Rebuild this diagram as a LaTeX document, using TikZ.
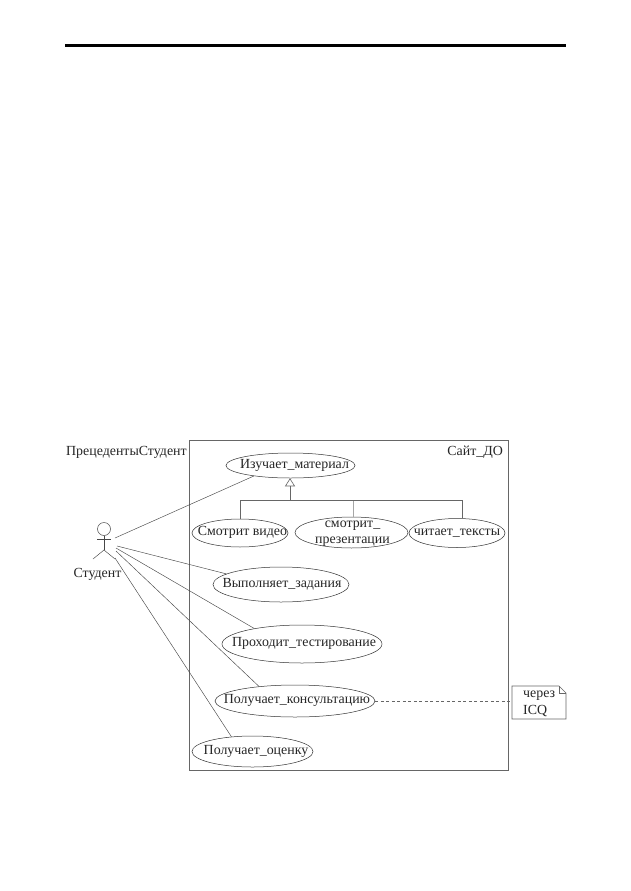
\documentclass[tikz,border=0pt]{standalone}
\usepackage{fontspec}
\setmainfont{Liberation Serif}
\usetikzlibrary{arrows.meta,shapes.geometric,shapes.misc}
\definecolor{lineg}{gray}{0.28}
\definecolor{frameg}{gray}{0.4}
\newcommand\uctext[2][0pt]{\raisebox{-0.42em}{\smash{\makebox[0pt]{\hspace*{#1}#2}}}}
\newcommand\uctwo[2]{\smash{\makebox[0pt]{\hspace*{2pt}\raisebox{4.7pt}{#1}}}\smash{\makebox[0pt]{\hspace*{2pt}\raisebox{-11.3pt}{#2}}}}
\tikzset{
  x=1pt,y=-1pt,
  every node/.style={font=\fontsize{13.9pt}{16pt}\selectfont,text=black!85},
  usecase/.style={draw=black!80,line width=0.5pt,ellipse,inner sep=0pt,align=center},
  assoc/.style={draw=lineg,line width=0.45pt},
  genline/.style={draw=frameg,line width=0.6pt},
  plainlabel/.style={inner sep=0pt},
}
\begin{document}
\begin{tikzpicture}
\useasboundingbox (0,0) rectangle (630,891);
\fill[white] (0,0) rectangle (630,891);
% top rule
\coordinate (ruleL) at (65,45.5);
\coordinate (ruleR) at (566,45.5);
\draw[line width=2.6pt,black] (ruleL) -- (ruleR);
% frame
\node[draw=frameg,line width=0.6pt,minimum width=319pt,minimum height=330pt,inner sep=0pt] (frame) at (348.5,605) {};
\node[plainlabel,anchor=west] (title) at (66,452) {ПрецедентыСтудент};
\node[plainlabel,anchor=east] (site) at (503,452) {Сайт\_ДО};
% use cases
\node[usecase,minimum width=129pt,minimum height=25pt] (a) at (290.5,465.5) {\uctext[8pt]{Изучает\_материал}};
\node[usecase,minimum width=96pt,minimum height=28pt] (b) at (240,533) {\uctext[5pt]{Смотрит видео}};
\node[usecase,minimum width=113pt,minimum height=31pt] (c) at (351.5,532.5) {\uctwo{смотрит\_}{презентации}};
\node[usecase,minimum width=96pt,minimum height=29pt] (d) at (457,533) {\uctext[0pt]{читает\_тексты}};
\node[usecase,minimum width=136pt,minimum height=35pt] (e) at (281,584.5) {\uctext[2pt]{Выполняет\_задания}};
\node[usecase,minimum width=160pt,minimum height=38pt] (f) at (302,644) {\uctext[4pt]{Проходит\_тестирование}};
\node[usecase,minimum width=160pt,minimum height=32pt] (g) at (295,701) {\uctext[4pt]{Получает\_консультацию}};
\node[usecase,minimum width=121pt,minimum height=31pt] (h) at (252.5,751.5) {\uctext[7pt]{Получает\_оценку}};
% actor
\node[draw=lineg,line width=0.5pt,circle,minimum size=13pt,inner sep=0pt] (head) at (104,529) {};
\coordinate (hip) at (104,550);
\coordinate (armL) at (97,539);
\coordinate (armR) at (111,539);
\coordinate (legL) at (93,559);
\coordinate (legR) at (115,559);
\draw[assoc] (head.south) -- (hip);
\draw[assoc] (armL) -- (armR);
\draw[assoc] (legL) -- (hip) -- (legR);
\node[plainlabel] (actor) at (97.5,574.5) {Студент};
% associations
\coordinate (s1) at (115,538);
\coordinate (s2) at (117,546);
\coordinate (s3) at (116,548);
\coordinate (s4) at (116,551);
\coordinate (s5) at (115,558);
\draw[assoc] (s1) -- (a.196);
\draw[assoc] (s2) -- (e.169);
\draw[assoc] (s3) -- (f.162.6);
\draw[assoc] (s4) -- (g.158);
\draw[assoc] (s5) -- (h.145);
% generalization
\coordinate (j) at (290,500);
\draw[genline,-{Triangle[open,length=8pt,width=10pt,fill=white]}] (j) -- (j |- a.south);
\draw[genline] (b.north) |- (j);
\draw[genline,draw=gray!70] (c.north) ++(1.5,0) coordinate (cTop) -- (cTop |- j);
\draw[genline] (d.70) |- (j);
% note
\coordinate (nTL) at (512,686);
\coordinate (nFa) at (559,686);
\coordinate (nFb) at (566,693);
\coordinate (nBR) at (566,719);
\coordinate (nBL) at (512,719);
\coordinate (nF) at (559,693);
\draw[frameg,line width=0.6pt,fill=white] (nTL) -- (nFa) -- (nFb) -- (nBR) -- (nBL) -- cycle;
\draw[frameg,line width=0.5pt] (nFa) -- (nF) -- (nFb);
\node[plainlabel,anchor=west] (n1) at (523,695.5) {через};
\node[plainlabel,anchor=west] (n2) at (523,711) {ICQ};
\coordinate (nW) at (512,701);
\draw[frameg,line width=0.5pt,dash pattern=on 3pt off 2.5pt] (g.east) -- (nW);
\end{tikzpicture}
\end{document}
